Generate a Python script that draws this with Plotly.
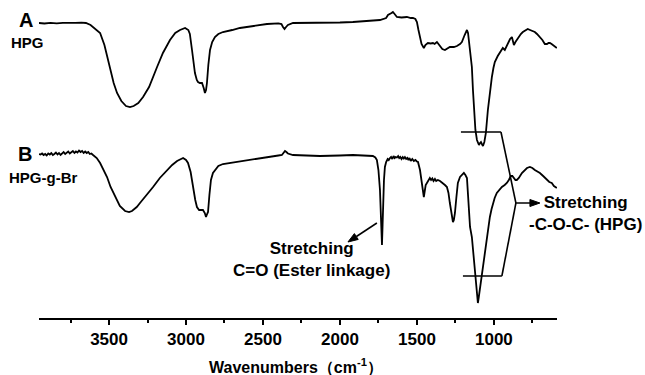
import plotly.graph_objects as go

# Wavenumbers (cm-1) and relative transmittance (a.u.) for spectrum A (HPG)
wn_A = [3955, 3920, 3880, 3840, 3800, 3760, 3720, 3680, 3650, 3620, 3590, 3558, 3530, 3494, 3470, 3448,
        3420, 3390, 3364, 3340, 3310, 3279, 3240, 3188, 3150, 3104, 3070, 3039, 3006, 2985, 2975, 2961,
        2950, 2942, 2930, 2922, 2910, 2896, 2885, 2877, 2870, 2864, 2855, 2844, 2830, 2812, 2790, 2760,
        2700, 2650, 2560, 2474, 2400, 2380, 2370, 2360, 2350, 2338, 2305, 2200, 2130, 2000, 1916, 1800,
        1740, 1700, 1688, 1665, 1656, 1645, 1630, 1600, 1565, 1540, 1526, 1510, 1500, 1490, 1481, 1470,
        1455, 1445, 1429, 1410, 1396, 1385, 1370, 1360, 1351, 1335, 1318, 1300, 1286, 1260, 1240, 1220,
        1208, 1190, 1175, 1168, 1162, 1152, 1143, 1136, 1130, 1120, 1110, 1104, 1097, 1090, 1084, 1078,
        1071, 1062, 1052, 1039, 1025, 1013, 1003, 994, 975, 961, 950, 942, 929, 915, 909, 895, 883, 877,
        870, 860, 844, 825, 812, 795, 780, 765, 750, 734, 720, 701, 685, 669, 655, 645, 636, 625, 617,
        605, 591]
py_A = [23, 23.5, 22.8, 23.3, 22.9, 23.2, 22.8, 22.6, 23, 25, 29, 33, 45, 67, 83, 93,
        101, 106, 107, 106, 103, 97, 87, 67, 53, 40, 33, 30, 28, 30, 34, 50,
        65, 73, 80, 82, 83, 83, 88, 93, 90, 83, 65, 50, 42, 37, 34, 32,
        30, 28, 26, 24, 23.3, 24, 27, 29, 27, 25, 23, 23, 23, 22.5, 22, 20.5,
        20, 18, 15, 13, 12, 14, 17, 17.5, 17, 18, 18, 19, 22, 30, 37, 44,
        48, 45, 43, 43.5, 43, 44, 42, 44, 47, 49, 50, 48, 47, 47, 46, 44,
        42, 35, 30, 33, 40, 55, 67, 90, 110, 130, 140, 143, 145, 143, 142, 144,
        146, 142, 133, 110, 90, 77, 68, 62, 56, 52, 49, 48, 50, 45, 43, 39, 37, 41,
        45, 42, 38, 34, 32, 30, 29, 30, 31, 32, 34, 37, 40, 44, 44, 43, 43, 44, 45,
        46, 48]
T_A = [318 - v for v in py_A]

# Spectrum B (HPG-g-Br)
wn_B = [3955, 3945, 3935, 3925, 3915, 3905, 3895, 3885, 3875, 3865, 3855, 3845, 3835, 3825, 3815, 3805,
        3795, 3785, 3775, 3765, 3755, 3745, 3735, 3725, 3715, 3705, 3695, 3685, 3675, 3665, 3655, 3645,
        3635, 3625, 3615, 3604, 3580, 3558, 3535, 3513, 3490, 3461, 3430, 3396, 3370, 3351, 3320, 3299,
        3260, 3214, 3170, 3123, 3090, 3058, 3035, 3019, 3000, 2987, 2970, 2955, 2940, 2929, 2915, 2900,
        2890, 2878, 2870, 2863, 2857, 2848, 2838, 2825, 2812, 2790, 2760, 2700, 2650, 2560, 2474, 2400,
        2377, 2365, 2357, 2348, 2338, 2305, 2200, 2130, 2000, 1916, 1850, 1786, 1770, 1760, 1750, 1740,
        1733, 1727, 1723, 1719, 1714, 1708, 1700, 1690, 1683, 1675, 1668, 1660, 1652, 1645, 1638, 1630,
        1622, 1615, 1608, 1600, 1592, 1585, 1578, 1570, 1562, 1555, 1548, 1540, 1530, 1520, 1510, 1500,
        1493, 1480, 1468, 1460, 1455, 1450, 1443, 1435, 1425, 1416, 1408, 1400, 1392, 1383, 1375, 1364,
        1350, 1340, 1331, 1318, 1305, 1295, 1286, 1276, 1266, 1260, 1253, 1244, 1234, 1220, 1205, 1195,
        1185, 1175, 1168, 1162, 1155, 1143, 1133, 1123, 1115, 1108, 1104, 1098, 1090, 1084, 1071, 1058,
        1045, 1035, 1026, 1015, 1006, 995, 981, 965, 948, 930, 916, 903, 890, 880, 870, 860,
        851, 838, 818, 800, 785, 766, 750, 734, 720, 701, 680, 656, 640, 624, 610, 591]
py_B = [154, 154.5, 153.5, 155, 154, 155.5, 153.5, 154.5, 153, 155, 154, 152.5, 154.5, 153, 155, 153.5,
        152, 154, 152.5, 151.5, 153.5, 152, 151, 153, 151.5, 152.5, 150.5, 152, 151, 153, 151.5, 153,
        152, 154, 153.5, 155, 158, 163, 170, 177, 187, 197, 206, 211, 212, 211, 207, 203,
        196, 187, 178, 170, 165, 161, 159, 158, 160, 163, 172, 187, 200, 207, 210, 210,
        210, 213, 217, 214, 212, 195, 180, 173, 170, 166, 164, 162.5, 161, 159, 157, 155.5,
        155, 152, 151, 152, 153.5, 155, 155.5, 156, 155.5, 155, 155.5, 156, 157.5, 160, 170, 190,
        220, 245, 225, 200, 180, 167, 162, 159, 160, 158, 157, 159, 156, 158, 157, 157.5,
        156, 158, 157, 159, 157, 158.5, 157, 159, 158, 160, 158, 161, 159, 161, 160, 161.5,
        162, 170, 183, 192, 197, 192, 185, 183, 180, 178, 180, 178.5, 181, 179, 181, 180,
        181, 182, 183, 185, 187, 193, 203, 215, 222, 220, 213, 198, 183, 177, 174, 173,
        175, 178, 195, 215, 227, 237, 255, 273, 288, 298, 303, 297, 288, 280, 263, 250,
        237, 227, 217, 209, 203, 198, 193, 190, 187, 185, 183, 180, 176, 176, 178, 180,
        180, 178, 173, 170, 168, 167, 168, 170, 171, 173, 176, 180, 182, 183, 186, 188]
T_B = [318 - v for v in py_B]

major_ticks = [3500, 3000, 2500, 2000, 1500, 1000]

FONT = "Liberation Sans, Arial, Helvetica, sans-serif"
W, H = 645, 375
ML, MR, MT, MB = 39, 88, 0, 57
PW, PH = W - ML - MR, H - MT - MB


def px(x):
    return (x - ML) / PW


def py(y):
    return (H - MB - y) / PH


fig = go.Figure()
fig.add_trace(go.Scatter(x=wn_A, y=T_A, mode="lines", line=dict(color="black", width=1.8),
                         showlegend=False, hoverinfo="skip"))
fig.add_trace(go.Scatter(x=wn_B, y=T_B, mode="lines", line=dict(color="black", width=1.8),
                         showlegend=False, hoverinfo="skip"))

annos = []


def label(text, x, y, size):
    annos.append(dict(text=text, x=px(x), y=py(y), xref="paper", yref="paper",
                      xanchor="center", yanchor="middle", showarrow=False, align="center",
                      font=dict(family=FONT, size=size, color="black", weight="bold")))


label("A", 26, 20, 20)
label("HPG", 27, 42.5, 15)
label("B", 24.5, 154.5, 20)
label("HPG-g-Br", 43, 177, 15)
label("Stretching<br>C=O (Ester linkage)", 311, 259, 17)
label("Stretching<br>-C-O-C- (HPG)", 585, 213, 17)
label("Wavenumbers（cm<sup>-1</sup>）", 296, 366, 16)

shapes = []
lw = dict(color="black", width=1.6)
# bracket for C-O-C
shapes.append(dict(type="line", x0=1214, x1=954, y0=318 - 132, y1=318 - 132, xref="x", yref="y", line=lw))
shapes.append(dict(type="line", x0=954, x1=857, y0=318 - 132, y1=318 - 203, xref="x", yref="y", line=lw))
shapes.append(dict(type="line", x0=1201, x1=948, y0=318 - 276, y1=318 - 276, xref="x", yref="y", line=lw))
shapes.append(dict(type="line", x0=948, x1=857, y0=318 - 276, y1=318 - 203, xref="x", yref="y", line=lw))
# arrow C-O-C (pointing right)
shapes.append(dict(type="line", x0=857, x1=740, y0=318 - 203, y1=318 - 203, xref="x", yref="y",
                   line=dict(color="black", width=1.5)))
shapes.append(dict(type="path", xref="x", yref="y", xsizemode="pixel", ysizemode="pixel",
                   xanchor=701, yanchor=318 - 203, path="M 0 0 L -10 3.5 L -10 -3.5 Z",
                   fillcolor="black", line=dict(color="black", width=1)))
# arrow C=O (pointing down-left)
shapes.append(dict(type="line", x0=1760, x1=1893, y0=318 - 223, y1=318 - 236.5, xref="x", yref="y",
                   line=dict(color="black", width=1.5)))
shapes.append(dict(type="path", xref="x", yref="y", xsizemode="pixel", ysizemode="pixel",
                   xanchor=1948, yanchor=318 - 242, path="M 0 0 L 6.44 8.41 L 10.28 2.55 Z",
                   fillcolor="black", line=dict(color="black", width=1)))

fig.update_layout(
    width=W, height=H,
    margin=dict(l=ML, r=MR, t=MT, b=MB),
    paper_bgcolor="white", plot_bgcolor="white",
    annotations=annos, shapes=shapes,
    xaxis=dict(range=[3955, 590], showgrid=False, zeroline=False, showline=True,
               linecolor="black", linewidth=2, ticks="outside", ticklen=5, tickwidth=1.5,
               tickcolor="black", tickvals=major_ticks,
               ticktext=[str(t) for t in major_ticks],
               tickfont=dict(family=FONT, size=17, color="black", weight="bold"),
               minor=dict(ticks="outside", ticklen=3, tickwidth=1.5, tickcolor="black",
                          tickvals=[3750, 3250, 2750, 2250, 1750, 1250, 750])),
    yaxis=dict(range=[0, 318], visible=False, showgrid=False, zeroline=False),
)

fig.write_html("out.html")
